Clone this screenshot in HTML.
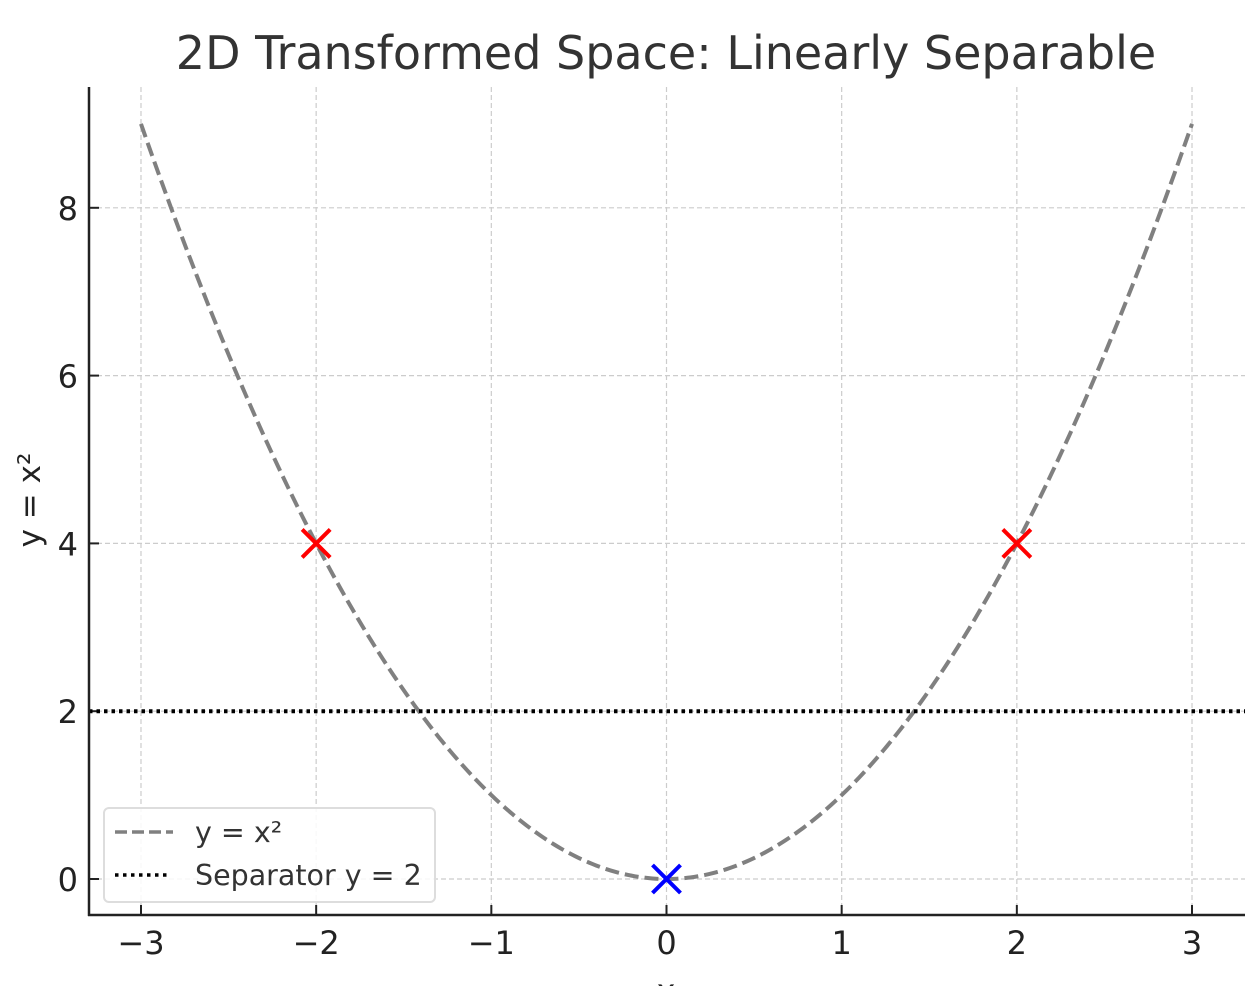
<!DOCTYPE html>
<html><head><meta charset="utf-8"><style>
html,body{margin:0;padding:0;background:#fff;}
svg{display:block;font-family:"DejaVu Sans","Liberation Sans",sans-serif;}
</style></head><body>
<svg id="chart" width="1260" height="986" viewBox="0 0 1260 986">
<text x="666" y="69" font-size="46" fill="#333" text-anchor="middle">2D Transformed Space: Linearly Separable</text>
<g id="grid"></g>
<g id="ticks"></g>
<g id="series"></g>
<line x1="89" y1="87" x2="89" y2="916" stroke="#222" stroke-width="2.5"/>
<line x1="88" y1="915" x2="1245" y2="915" stroke="#222" stroke-width="2.5"/>
<text x="666" y="1002" font-size="32" fill="#222" text-anchor="middle">x</text>
<text transform="translate(40,500) rotate(-90)" font-size="31" fill="#222" text-anchor="middle">y = x²</text>
<g>
<rect x="104" y="808" width="331" height="94" rx="5" fill="#fff" fill-opacity="0.85" stroke="#ddd" stroke-width="2"/>
<line x1="115" y1="832" x2="173" y2="832" stroke="#808080" stroke-width="3.5" stroke-dasharray="12,5"/>
<text x="195" y="842" font-size="28.5" fill="#333">y = x²</text>
<line x1="115" y1="875" x2="168" y2="875" stroke="#000" stroke-width="3.5" stroke-dasharray="3.5,4.5"/>
<text x="195" y="885" font-size="28.5" fill="#333">Separator y = 2</text>
</g>
</svg>
<script>
const xTicks=[-3,-2,-1,0,1,2,3];
const yTicks=[0,2,4,6,8];
const xLabels=["\u22123","\u22122","\u22121","0","1","2","3"];
const yLabels=["0","2","4","6","8"];
const curveXRange=[-3,3];
const separatorY=2;
const pointsX=[-2,2,0];
const pointsY=[4,4,0];
const pointColors=["red","red","blue"];
const NS="http://www.w3.org/2000/svg";
const sx=v=>666.5+v*175.17;
const sy=v=>879-v*83.9;
function mk(tag,attrs,parent,text){const e=document.createElementNS(NS,tag);for(const k in attrs)e.setAttribute(k,attrs[k]);if(text!==undefined)e.textContent=text;parent.appendChild(e);return e;}
const grid=document.getElementById('grid'),ticks=document.getElementById('ticks'),series=document.getElementById('series');
xTicks.forEach((t,i)=>{
 const g=mk('line',{x1:sx(t),x2:sx(t),y1:87,y2:915,stroke:'#ccc','stroke-width':1.2,'stroke-dasharray':'5,3'},grid);
 
 
 const tk=mk('line',{x1:sx(t),x2:sx(t),y1:905,y2:915,stroke:'#222','stroke-width':2},ticks);
 
 
 const tl=mk('text',{x:sx(t),y:954,'font-size':32,fill:'#222','text-anchor':'middle'},ticks,xLabels[i]);
 
 
});
yTicks.forEach((t,i)=>{
 const g=mk('line',{x1:89,x2:1245,y1:sy(t),y2:sy(t),stroke:'#ccc','stroke-width':1.2,'stroke-dasharray':'5,3'},grid);
 
 
 const tk=mk('line',{x1:89,x2:99,y1:sy(t),y2:sy(t),stroke:'#222','stroke-width':2},ticks);
 
 
 const tl=mk('text',{x:78,y:sy(t)+12,'font-size':32,fill:'#222','text-anchor':'end'},ticks,yLabels[i]);
 
 
});
let d='';
for(let i=0;i<=300;i++){const x=curveXRange[0]+(curveXRange[1]-curveXRange[0])*i/300;d+=(i?'L':'M')+sx(x).toFixed(2)+','+sy(x*x).toFixed(2);}
const c=mk('path',{d:d,fill:'none',stroke:'#808080','stroke-width':4,'stroke-dasharray':'14,6'},series);


const s=mk('line',{x1:89,x2:1245,y1:sy(separatorY),y2:sy(separatorY),stroke:'#000','stroke-width':4,'stroke-dasharray':'3.5,4'},series);


pointsX.forEach((px,i)=>{
 const cx=sx(px),cy=sy(pointsY[i]),r=14;
 const g=mk('path',{d:`M${cx-r},${cy-r}L${cx+r},${cy+r}M${cx-r},${cy+r}L${cx+r},${cy-r}`,stroke:pointColors[i],'stroke-width':4,fill:'none'},series);
 
 
});
</script>
</body></html>
